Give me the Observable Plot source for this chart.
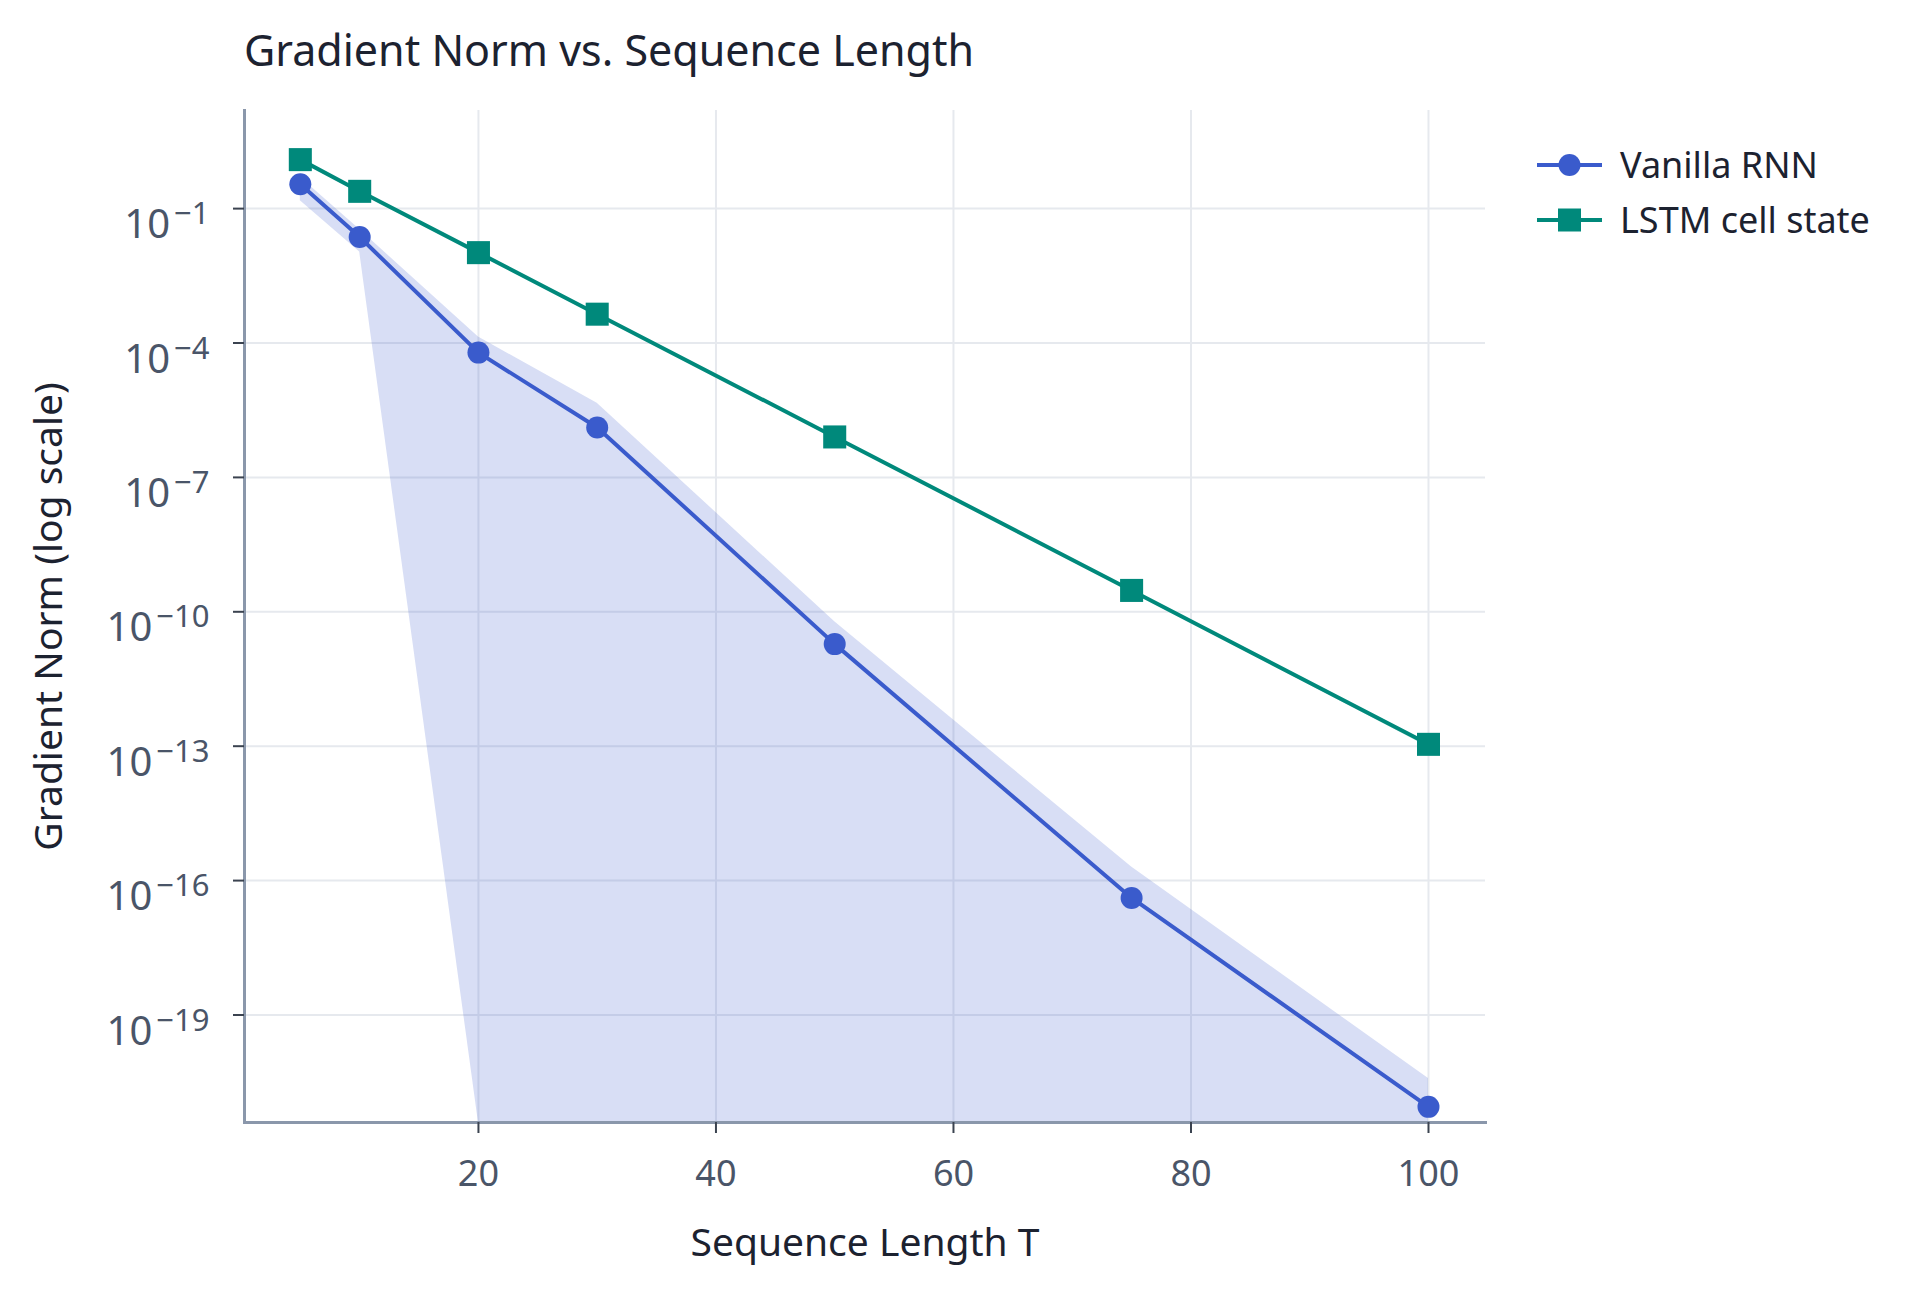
<!DOCTYPE html>
<html><head><meta charset="utf-8">
<script src="https://cdn.jsdelivr.net/npm/d3@7"></script>
<script src="https://cdn.jsdelivr.net/npm/@observablehq/plot@0.6"></script>
<style>
html,body{margin:0;padding:0;background:#fff;}
body{width:1920px;height:1291px;position:relative;overflow:hidden;font-family:"Noto Sans",sans-serif;}
#chart figure{margin:0;}
#chart h2{margin:0;padding:21px 0 0 244px;font-size:43px;line-height:58px;height:58px;font-weight:400;color:#1c2230;font-family:"Noto Sans",sans-serif;}
#legend{position:absolute;left:1537px;top:137px;font-size:36px;color:#1c2230;}
.row{display:flex;align-items:center;height:55px;white-space:nowrap;}
.row svg{margin-right:18px;flex:none;}
</style></head><body>
<div id="chart"></div>
<div id="legend"></div>
<script>
// ---- data ----
const titleText = "Gradient Norm vs. Sequence Length";
const xLabel = "Sequence Length T";
const yLabel = "Gradient Norm (log scale)";
const seriesNames = ["Vanilla RNN", "LSTM cell state"];
const seqLen = [5, 10, 20, 30, 50, 75, 100];
const rnnGrad  = [0.35, 0.0232, 6.1e-5, 1.3e-6, 1.9e-11, 4.1e-17, 8.9e-22];
const rnnUpper = [0.5, 0.034, 1.36e-4, 4.5e-6, 6.0e-11, 2.0e-16, 3.8e-21];
const rnnLower = [0.15, 0.0107, 1e-30, 1e-30, 1e-30, 1e-30, 1e-30];
const lstmGrad  = [1.24, 0.243, 0.0104, 4.4e-4, 8.0e-7, 3.0e-10, 1.1e-13];
const lstmUpper = [1.3, 0.255, 0.0109, 4.6e-4, 8.4e-7, 3.15e-10, 1.18e-13];
const lstmLower = [1.18, 0.232, 0.0099, 4.2e-4, 7.6e-7, 2.8e-10, 0.95e-13];
const xTicks = [20, 40, 60, 80, 100];
const yTickExponents = [-1, -4, -7, -10, -13, -16, -19];
const xDomain = [0.3, 104.8];
const yDomainExp = [-21.4, 1.19];

// ---- style ----
const rnnColor = "#3a5bcc";
const lstmColor = "#00897b";
const gridColor = "#e6e9ee";
const axisColor = "#8a97ab";
const tickColor = "#3b4350";
const tickText = "#4a5568";
const darkText = "#1c2230";

const yTicks = yTickExponents.map(e => Math.pow(10, e));
const rnnRows = seqLen.map((t, i) => ({T: t, g: rnnGrad[i], hi: rnnUpper[i], lo: rnnLower[i]}));
const lstmRows = seqLen.map((t, i) => ({T: t, g: lstmGrad[i], hi: lstmUpper[i], lo: lstmLower[i]}));

const fig = Plot.plot({
  title: titleText,
  width: 1920,
  height: 1212,
  marginTop: 31,
  marginBottom: 169,
  marginLeft: 244,
  marginRight: 435,
  style: {fontFamily: '"Noto Sans", sans-serif', fontSize: "36px", background: "#fff", overflow: "visible"},
  x: {domain: xDomain},
  y: {type: "log", domain: yDomainExp.map(e => Math.pow(10, e)), clamp: true},
  marks: [
    Plot.gridX(xTicks, {stroke: gridColor, strokeOpacity: 1, strokeWidth: 2}),
    Plot.gridY(yTicks, {stroke: gridColor, strokeOpacity: 1, strokeWidth: 2}),
    Plot.areaY(rnnRows, {x: "T", y1: "lo", y2: "hi", fill: rnnColor, fillOpacity: 0.2}),
    Plot.areaY(lstmRows, {x: "T", y1: "lo", y2: "hi", fill: lstmColor, fillOpacity: 0.2}),
    Plot.frame({anchor: "left", stroke: axisColor, strokeWidth: 3}),
    Plot.frame({anchor: "bottom", stroke: axisColor, strokeWidth: 3}),
    Plot.axisX(xTicks, {tickSize: 11, tickPadding: 27, stroke: tickColor, strokeWidth: 2, fill: tickText,
      fontSize: 36, label: xLabel, labelAnchor: "center", labelOffset: 133, labelArrow: "none"}),
    Plot.axisY(yTicks, {tickSize: 11, tickPadding: 24, stroke: tickColor, strokeWidth: 2, fill: tickText,
      fontSize: 36, tickFormat: d => "10|\u2212" + Math.round(-Math.log10(d)),
      label: yLabel, labelAnchor: "center", labelOffset: 210, labelArrow: "none"}),
    Plot.lineY(rnnRows, {x: "T", y: "g", stroke: rnnColor, strokeWidth: 4}),
    Plot.lineY(lstmRows, {x: "T", y: "g", stroke: lstmColor, strokeWidth: 4}),
    Plot.dot(rnnRows, {x: "T", y: "g", r: 11, fill: rnnColor}),
    Plot.dot(lstmRows, {x: "T", y: "g", r: 13, symbol: "square", fill: lstmColor})
  ]
});
document.getElementById("chart").appendChild(fig);
const svg = fig.tagName.toLowerCase() === "svg" ? fig : fig.querySelector("svg");

// superscript exponents on y tick labels
d3.select(svg).selectAll('g[aria-label="y-axis tick label"] text').each(function () {
  const parts = this.textContent.split("|");
  const t = d3.select(this);
  t.text(null).attr("dy", "18px");
  t.append("tspan").attr("font-size", "40px").text(parts[0]);
  t.append("tspan").attr("dx", "4px").attr("dy", "-14px").attr("font-size", "31px").text(parts[1]);
});
// axis titles darker and larger
d3.select(svg).selectAll('g[aria-label="x-axis label"], g[aria-label="y-axis label"]')
  .attr("fill", darkText).attr("font-size", "39px");
d3.select(svg).selectAll('g[aria-label="x-axis label"] text, g[aria-label="y-axis label"] text')
  .attr("fill", darkText).attr("font-size", "39px");

// legend
const legend = document.getElementById("legend");
seriesNames.forEach((name, i) => {
  const color = i === 0 ? rnnColor : lstmColor;
  const row = document.createElement("div");
  row.className = "row";
  const marker = i === 0
    ? `<circle cx="32.5" cy="15" r="11" fill="${color}"/>`
    : `<rect x="21" y="3.5" width="23" height="23" fill="${color}"/>`;
  row.innerHTML = `<svg width="65" height="30"><line x1="0" x2="65" y1="15" y2="15" stroke="${color}" stroke-width="4"/>${marker}</svg><span>${name}</span>`;
  legend.appendChild(row);
});
</script></body></html>
